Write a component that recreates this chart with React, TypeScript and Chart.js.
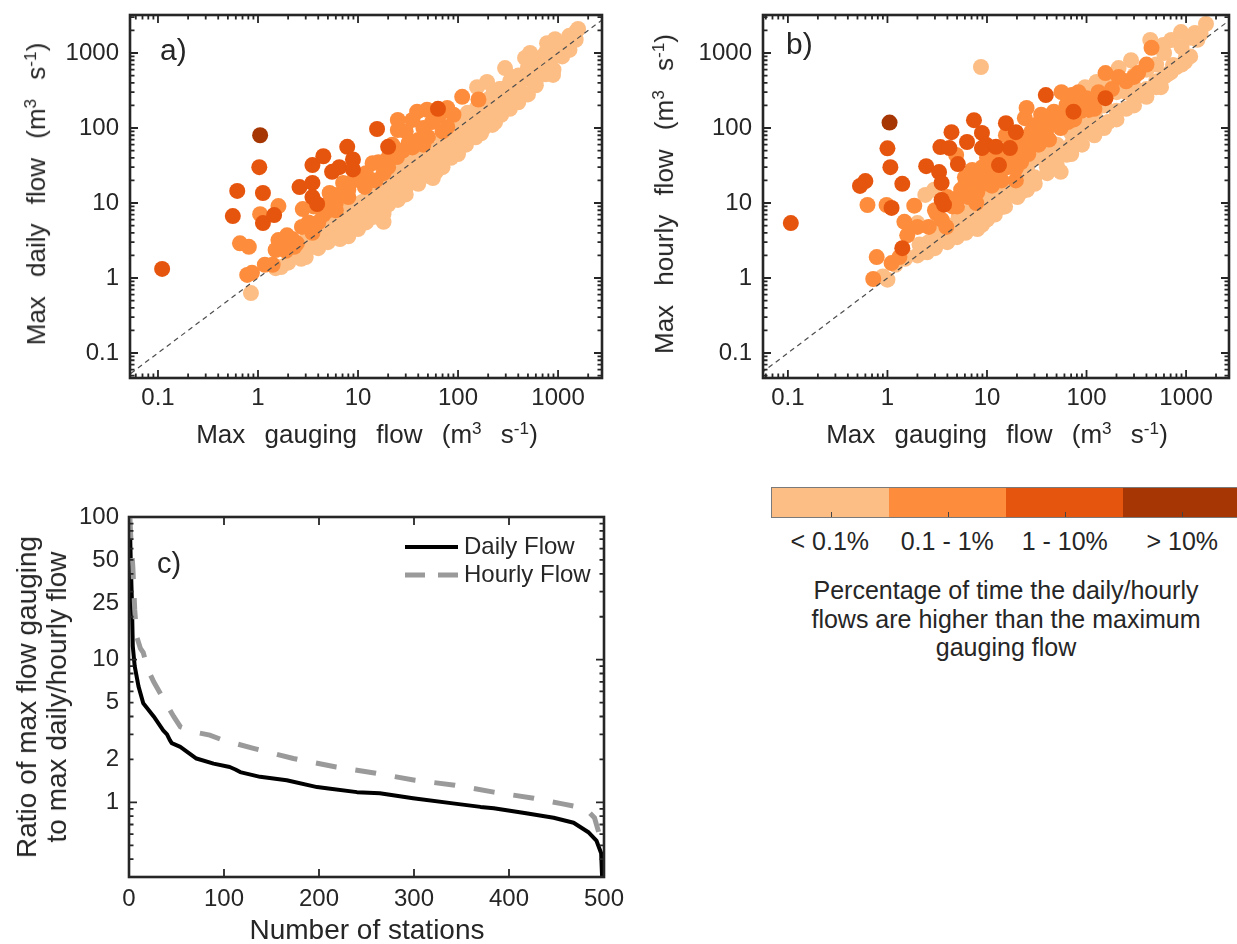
import React, { useEffect, useRef } from 'react';
import { Chart, registerables } from 'chart.js';

Chart.register(...registerables);

type Pt = [number, number];

const FONT = "'Liberation Sans', Arial, Helvetica, sans-serif";
const INK = '#262626';

// ---------- legend / classes ----------
const classColors = ['#FDBE85', '#FD8D3C', '#E6550D', '#A63603'];
const classLabels = ['< 0.1%', '0.1 - 1%', '1 - 10%', '> 10%'];
const legendTitleLines = [
  'Percentage of time the daily/hourly',
  'flows are higher than the maximum',
  'gauging flow',
];

// ---------- ticks ----------
const flowTickValues = [0.1, 1, 10, 100, 1000];
const flowTickLabels = ['0.1', '1', '10', '100', '1000'];
const ratioTickValues = [1, 2, 5, 10, 25, 50, 100];
const ratioTickLabels = ['1', '2', '5', '10', '25', '50', '100'];
const stationTickValues = [0, 100, 200, 300, 400, 500];
const stationTickLabels = ['0', '100', '200', '300', '400', '500'];

// ---------- panel a: max gauging flow vs max daily flow ----------
const dailyLight: Pt[] = [
  [0.85, 0.63], [1.5, 1.35], [1.7, 1.4], [2.1, 1.9], [2.4, 2.1], [2.7, 1.8], [3, 2.6], [3.3, 3.1],
  [3.6, 2.6], [4, 3.3], [4.5, 3.8], [4.9, 4.4], [5.3, 3.6], [5.9, 3.5], [6.2, 4.6], [6.6, 3.3],
  [7, 3.9], [7.8, 4.4], [8.3, 5.6], [9, 7.6], [9.5, 5.2], [10, 6.5], [11, 10.3], [11.5, 7.8],
  [12, 8.5], [13, 6.3], [14, 8.8], [15, 11], [16, 9.5], [18, 5.6], [18, 7.2], [19, 13], [21, 14],
  [22, 11], [24, 15], [26, 18], [28, 23.6], [30, 16], [33, 20], [35, 21.5], [36, 29], [40, 24],
  [42, 44], [45, 30], [50, 35], [53, 54], [56, 21.5], [60, 40], [65, 48], [70, 58], [74, 46],
  [80, 60], [90, 75], [100, 74], [110, 95], [110, 135], [125, 160], [140, 88], [150, 120],
  [155, 350], [170, 85], [180, 150], [195, 410], [200, 240], [225, 290], [235, 120], [250, 200],
  [260, 330], [295, 630], [300, 260], [345, 480], [370, 250], [400, 350], [468, 860], [500, 600],
  [525, 1000], [600, 370], [650, 700], [708, 760], [776, 1350], [890, 510], [933, 1530],
  [1050, 1040], [1300, 1640], [1585, 2090], [8, 9], [6, 6.5], [5, 5.5], [13, 14], [20, 22],
  [25, 28], [32, 35], [46, 42], [85, 90], [130, 110], [7.2, 5.5], [12, 10], [17, 12],
  [2, 1.6], [2.2, 2.4], [3, 1.9], [3.1, 3.4], [4, 2.5], [4.1, 4.2], [5, 3], [5.1, 4.9], [6, 3.8],
  [6.1, 5.8], [7, 4.6], [7.1, 6.8], [8, 3.6], [8.1, 6.5], [10, 4.5], [10, 8], [10.2, 9.5],
  [12, 5.5], [12.2, 11], [14, 6.5], [14.2, 12], [17, 8], [17.2, 15], [20, 9.5], [20, 16], [20.5, 19],
  [25, 11], [25, 21], [25.5, 25], [30, 13], [30, 25], [30.5, 30], [40, 18], [40, 33], [40.5, 38],
  [50, 23], [50, 28], [50.5, 45], [60, 26], [60, 50], [70, 30], [70, 45], [70.5, 70], [85, 40],
  [85, 65], [86, 100], [100, 45], [100, 60], [100, 95], [101, 120], [120, 60], [120, 80],
  [121, 115], [150, 75], [150, 100], [150, 150], [152, 180], [180, 100], [180, 120], [182, 220],
  [220, 110], [220, 170], [222, 260], [270, 150], [270, 220], [272, 330], [330, 180], [330, 280],
  [332, 420], [400, 220], [400, 300], [402, 500], [500, 280], [500, 450], [502, 650], [600, 430],
  [600, 550], [602, 850], [750, 520], [750, 800], [752, 1000], [900, 600], [900, 900],
  [902, 1200], [1100, 900], [1100, 1300], [1300, 1100], [1300, 1700], [1500, 1500], [1500, 1900],
];
const dailyMedium: Pt[] = [
  [0.66, 2.9], [0.81, 2.6], [0.78, 1.1], [0.87, 1.17], [1.05, 7.1], [1.17, 1.5], [1.4, 1.5],
  [1.5, 2.36], [1.6, 9.1], [1.6, 3.2], [1.95, 3.7], [2.45, 2.9], [2.2, 3.3], [2.75, 4.8],
  [2.8, 8.3], [3.2, 5.5], [3.5, 4], [3.6, 9], [4.5, 7], [5.2, 13.6], [5.2, 10.3], [6, 8],
  [6.2, 12.8], [7.1, 18.5], [8, 12], [10, 22], [11.7, 16.4], [14, 34], [18, 25], [20, 30],
  [24.5, 41], [25, 94], [25, 128], [32, 63], [35, 128], [39, 165], [40, 69], [49, 175], [50, 76],
  [60, 140], [78, 185], [78, 103], [110, 260], [160, 240],
  [5, 8], [6, 10], [8, 15], [9, 20], [12, 25], [15, 20], [16, 35], [20, 40], [22, 60], [28, 50],
  [30, 90], [45, 100], [55, 120], [65, 150], [90, 150], [35, 55], [45, 60], [70, 90], [4, 5.5],
  [2.3, 2.6], [1.9, 2.3],
];
const dailyDark: Pt[] = [
  [0.11, 1.32], [0.56, 6.7], [0.62, 14.5], [1.03, 30], [1.12, 13.6], [1.12, 5.4], [1.45, 6.9],
  [2.6, 16.3], [3.5, 18.5], [3.5, 12], [3.9, 9.7], [3.5, 32], [4.5, 42], [5.5, 26], [6.5, 30],
  [7.8, 56], [8.9, 38], [8.9, 28], [15.5, 97], [20, 56], [63, 180],
];
const dailyDarkest: Pt[] = [[1.05, 80]];

// ---------- panel b: max gauging flow vs max hourly flow ----------
const hourlyLight: Pt[] = [
  [0.9, 1.05], [1.2, 1.5], [1.5, 1.8], [2, 5.4], [2.4, 12.8], [2.5, 2.2], [2.95, 15], [3, 2.5],
  [3.3, 3.2], [4, 3], [4.9, 4.1], [5, 3.5], [6, 4.5], [7.4, 4.8], [8.3, 6.3], [8.9, 5.1],
  [8.9, 7.3], [9.5, 10], [9.8, 9.4], [12, 7], [13, 10.3], [14, 8.8], [15, 12], [17.8, 15],
  [18, 17], [20, 13], [22, 14], [25, 20], [25, 35], [30, 22], [33, 54], [35, 40], [40, 30],
  [42, 37], [45, 60], [50, 45], [55, 26], [63, 44], [70, 60], [83, 80], [97, 350], [100, 90],
  [117, 120], [126, 410], [130, 100], [150, 200], [165, 120], [165, 440], [200, 170], [210, 630],
  [235, 320], [250, 300], [280, 800], [300, 250], [305, 510], [400, 330], [437, 1490], [500, 420],
  [560, 350], [590, 1280], [650, 520], [710, 1490], [740, 690], [800, 650], [890, 1900],
  [975, 760], [1000, 900], [1230, 1850], [1300, 1500], [1585, 2440], [8.7, 650],
  [1, 0.95], [1.5, 2], [2, 2], [2.1, 2.8], [2.6, 3], [3.1, 2.8], [3.1, 4], [4.1, 3.3], [4.1, 5],
  [5.1, 4.5], [5.2, 6.5], [6.1, 4], [6.2, 7], [7, 5.5], [7.2, 9], [8, 4.5], [10, 6], [10.2, 12],
  [12.2, 8], [12.4, 14], [15.2, 9], [15.4, 18], [20.2, 12], [20.4, 24], [25.2, 15], [25.4, 30],
  [30.2, 18], [30.4, 40], [40.2, 25], [40.4, 50], [50.2, 32], [50.4, 60], [70.2, 45], [70.4, 85],
  [90, 60], [91, 110], [120, 80], [121, 160], [150, 100], [151, 230], [200, 130], [201, 300],
  [250, 180], [251, 400], [300, 200], [301, 350], [400, 260], [401, 600], [500, 350], [501, 700],
  [600, 480], [601, 1000], [700, 550], [900, 700], [901, 1200], [1100, 900], [1101, 1600],
  [1400, 1800],
];
const hourlyMedium: Pt[] = [
  [0.63, 9.4], [0.98, 9.4], [1.86, 9.2], [1.48, 5.6], [0.78, 1.9], [0.72, 0.97], [1.1, 1.58],
  [1.32, 1.9], [1.58, 3.7], [2, 4.8], [2.6, 4.8], [3.1, 7.3], [3.5, 6], [3.9, 4.8], [4.5, 9],
  [5.2, 12], [6, 22], [6.1, 18.5], [7.1, 27.6], [4.9, 43.6], [7.8, 10], [8, 14], [9, 30],
  [10, 40], [11.2, 18.5], [11.2, 17], [12, 50], [14, 20], [15, 50], [15.5, 80], [19.5, 20],
  [19.5, 29], [20, 60], [21, 44], [24, 135], [25, 185], [25, 75], [28, 65], [31, 110], [35, 150],
  [39, 88], [40, 100], [47, 165], [50, 120], [56, 300], [63, 203], [71, 275], [80, 200],
  [83, 300], [100, 250], [105, 174], [132, 300], [155, 540], [210, 480], [330, 540], [450, 1170],
  [3, 8], [4, 12], [5, 9], [5.5, 15], [6.5, 12], [7, 20], [8, 25], [9, 18], [10.5, 25], [11, 35],
  [13, 28], [14, 40], [16, 30], [17, 45], [18, 70], [22, 35], [23, 55], [26, 45], [28, 90],
  [30, 70], [33, 60], [36, 80], [42, 70], [45, 130], [55, 100], [60, 150], [65, 120], [75, 130],
  [90, 170], [110, 220], [120, 180], [140, 260], [180, 330], [250, 420], [300, 480], [400, 700],
];
const hourlyDark: Pt[] = [
  [0.107, 5.4], [0.53, 16.9], [0.6, 19.6], [1.0, 53.6], [1.07, 30], [1.41, 18], [1.1, 8.6],
  [1.41, 2.5], [2.45, 31], [3.3, 25.8], [3.5, 18.5], [3.5, 11], [3.7, 9.5], [4.4, 88],
  [3.4, 55.7], [4.2, 54], [5.1, 33], [6.3, 65], [7.4, 127], [8.9, 86], [8.9, 54], [9.8, 60],
  [12.3, 56], [13.2, 32], [15.5, 116], [17, 54], [19.5, 88], [39, 275], [74, 165], [155, 250],
];
const hourlyDarkest: Pt[] = [[1.05, 118]];

// ---------- panel c: sorted ratios ----------
const dailyStations = [1, 2, 3, 4, 6, 10, 15, 20, 26, 36, 40, 43, 45, 54, 71, 89, 106, 112, 117, 138,
  166, 198, 210, 240, 264, 299, 343, 370, 384, 418, 447, 468, 484, 492, 497, 498];
const dailyRatio = [85, 45, 26.5, 12.4, 9.0, 6.5, 4.95, 4.5, 4.0, 3.2, 3.0, 2.73, 2.6, 2.45, 2.03,
  1.87, 1.77, 1.7, 1.63, 1.51, 1.43, 1.28, 1.25, 1.18, 1.16, 1.07, 0.98, 0.93, 0.91, 0.84, 0.78,
  0.72, 0.615, 0.54, 0.44, 0.3];
const hourlyStations = [1, 2, 4, 6, 8, 12, 15, 20, 26, 33, 40, 47, 54, 70, 85, 99, 131, 173, 218,
  260, 301, 343, 384, 426, 455, 480, 490, 497];
const hourlyRatio = [98, 70, 45, 22.5, 14.6, 12, 11.2, 8.5, 7.0, 5.8, 4.8, 4.0, 3.39, 3.1, 2.96,
  2.73, 2.39, 2.03, 1.77, 1.6, 1.43, 1.32, 1.18, 1.07, 0.98, 0.91, 0.78, 0.54];

// ---------- helpers ----------
type TickMark = { v: number; major: boolean };

function logTickMarks(min: number, max: number): TickMark[] {
  const out: TickMark[] = [];
  for (let e = -3; e <= 4; e++) {
    for (let k = 1; k <= 9; k++) {
      const v = k * Math.pow(10, e);
      if (v >= min && v <= max) out.push({ v, major: k === 1 });
    }
  }
  return out;
}

function boxTicksPlugin(xTicks: TickMark[], yTicks: TickMark[]) {
  return {
    id: 'boxTicks',
    afterDatasetsDraw(chart: any) {
      const { ctx, chartArea } = chart;
      const { left, right, top, bottom } = chartArea;
      const xs = chart.scales.x;
      const ys = chart.scales.y;
      ctx.save();
      ctx.strokeStyle = INK;
      ctx.lineWidth = 1.8;
      ctx.beginPath();
      xTicks.forEach((t) => {
        const p = xs.getPixelForValue(t.v);
        const L = t.major ? 8 : 4.5;
        ctx.moveTo(p, bottom);
        ctx.lineTo(p, bottom - L);
        ctx.moveTo(p, top);
        ctx.lineTo(p, top + L);
      });
      yTicks.forEach((t) => {
        const p = ys.getPixelForValue(t.v);
        const L = t.major ? 8 : 4.5;
        ctx.moveTo(left, p);
        ctx.lineTo(left + L, p);
        ctx.moveTo(right, p);
        ctx.lineTo(right - L, p);
      });
      ctx.stroke();
      ctx.lineWidth = 2.6;
      ctx.strokeRect(left, top, right - left, bottom - top);
      ctx.restore();
    },
  };
}

function fixedScale(size: number, horizontal: boolean) {
  return (s: any) => {
    if (horizontal) s.height = size;
    else s.width = size;
    s.paddingLeft = 0;
    s.paddingRight = 0;
    s.paddingTop = 0;
    s.paddingBottom = 0;
  };
}

const tickFont = { family: FONT, size: 24 };

function scatterConfig(
  light: Pt[], medium: Pt[], dark: Pt[], darkest: Pt[],
  xMin: number, xMax: number, yMin: number, yMax: number,
  yWidth: number, xHeight: number, padTop: number, padRight: number,
) {
  const toPts = (arr: Pt[]) => arr.map(([x, y]) => ({ x, y }));
  const pointSet = (arr: Pt[], color: string) => ({
    data: toPts(arr),
    pointRadius: 8,
    pointHoverRadius: 8,
    pointBackgroundColor: color,
    pointBorderWidth: 0,
    borderWidth: 0,
    showLine: false,
  });
  return {
    type: 'scatter',
    data: {
      datasets: [
        {
          type: 'line',
          data: [{ x: 0.001, y: 0.001 }, { x: 100000, y: 100000 }],
          borderColor: '#4d4d4d',
          borderWidth: 1.2,
          borderDash: [5, 4],
          pointRadius: 0,
          fill: false,
        },
        pointSet(darkest, classColors[3]),
        pointSet(dark, classColors[2]),
        pointSet(medium, classColors[1]),
        pointSet(light, classColors[0]),
      ],
    },
    options: {
      animation: false,
      responsive: false,
      events: [],
      layout: { padding: { left: 0, top: padTop, right: padRight, bottom: 0 } },
      plugins: { legend: { display: false }, tooltip: { enabled: false } },
      scales: {
        x: {
          type: 'logarithmic',
          min: xMin,
          max: xMax,
          bounds: 'data',
          grid: { display: false, drawTicks: false },
          border: { display: false },
          afterBuildTicks: (s: any) => { s.ticks = flowTickValues.map((v) => ({ value: v })); },
          afterFit: fixedScale(xHeight, true),
          ticks: {
            autoSkip: false, maxRotation: 0, padding: 6, color: INK, font: tickFont,
            callback: (_v: any, i: number) => flowTickLabels[i],
          },
        },
        y: {
          type: 'logarithmic',
          min: yMin,
          max: yMax,
          bounds: 'data',
          grid: { display: false, drawTicks: false },
          border: { display: false },
          afterBuildTicks: (s: any) => { s.ticks = flowTickValues.map((v) => ({ value: v })); },
          afterFit: fixedScale(yWidth, false),
          ticks: {
            autoSkip: false, padding: 11, color: INK, font: tickFont,
            callback: (_v: any, i: number) => flowTickLabels[i],
          },
        },
      },
    },
    plugins: [boxTicksPlugin(logTickMarks(xMin, xMax), logTickMarks(yMin, yMax))],
  };
}

const ratioLegendPlugin = {
  id: 'ratioLegend',
  afterDraw(chart: any) {
    const { ctx, chartArea } = chart;
    const x0 = chartArea.right - 199;
    const x1 = chartArea.right - 146;
    const tx = chartArea.right - 140;
    const y1 = chartArea.top + 30;
    const y2 = chartArea.top + 58;
    ctx.save();
    ctx.strokeStyle = '#000000';
    ctx.lineWidth = 4;
    ctx.beginPath();
    ctx.moveTo(x0, y1);
    ctx.lineTo(x1, y1);
    ctx.stroke();
    ctx.strokeStyle = '#9a9a9a';
    ctx.lineWidth = 5;
    ctx.setLineDash([20, 13]);
    ctx.beginPath();
    ctx.moveTo(x0, y2);
    ctx.lineTo(x1, y2);
    ctx.stroke();
    ctx.setLineDash([]);
    ctx.fillStyle = INK;
    ctx.font = `24px ${FONT}`;
    ctx.textBaseline = 'middle';
    ctx.textAlign = 'left';
    ctx.fillText('Daily Flow', tx, y1);
    ctx.fillText('Hourly Flow', tx, y2);
    ctx.restore();
  },
};

function ratioConfig() {
  const stationMarks: TickMark[] = stationTickValues.map((v) => ({ v, major: true }));
  return {
    type: 'line',
    data: {
      datasets: [
        {
          label: 'Hourly Flow',
          data: hourlyStations.map((x, i) => ({ x, y: hourlyRatio[i] })),
          borderColor: '#9a9a9a',
          borderWidth: 5,
          borderDash: [21, 19],
          pointRadius: 0,
          tension: 0,
          fill: false,
        },
        {
          label: 'Daily Flow',
          data: dailyStations.map((x, i) => ({ x, y: dailyRatio[i] })),
          borderColor: '#000000',
          borderWidth: 4,
          borderJoinStyle: 'round',
          pointRadius: 0,
          tension: 0,
          fill: false,
        },
      ],
    },
    options: {
      animation: false,
      responsive: false,
      events: [],
      layout: { padding: { left: 0, top: 37, right: 36, bottom: 0 } },
      plugins: { legend: { display: false }, tooltip: { enabled: false } },
      scales: {
        x: {
          type: 'linear',
          min: 0,
          max: 500,
          bounds: 'data',
          grid: { display: false, drawTicks: false },
          border: { display: false },
          afterBuildTicks: (s: any) => { s.ticks = stationTickValues.map((v) => ({ value: v })); },
          afterFit: fixedScale(48, true),
          ticks: {
            autoSkip: false, maxRotation: 0, padding: 8, color: INK, font: tickFont,
            callback: (_v: any, i: number) => stationTickLabels[i],
          },
        },
        y: {
          type: 'logarithmic',
          min: 0.3,
          max: 100,
          bounds: 'data',
          grid: { display: false, drawTicks: false },
          border: { display: false },
          afterBuildTicks: (s: any) => { s.ticks = ratioTickValues.map((v) => ({ value: v })); },
          afterFit: fixedScale(129, false),
          ticks: {
            autoSkip: false, padding: 10, color: INK, font: tickFont,
            callback: (_v: any, i: number) => ratioTickLabels[i],
          },
        },
      },
    },
    plugins: [boxTicksPlugin(stationMarks, logTickMarks(0.3, 100)), ratioLegendPlugin],
  };
}

// ---------- overlay text ----------
const supStyle: React.CSSProperties = { fontSize: '0.66em', verticalAlign: '0.55em', lineHeight: 0 };

function Unit() {
  return (
    <span>
      (m<sup style={supStyle}>3</sup> s<sup style={supStyle}>-1</sup>)
    </span>
  );
}

function Label(props: {
  x: number; y: number; size: number; rotate?: boolean; children: React.ReactNode;
  lineHeight?: number; wordSpacing?: number; align?: 'center' | 'left';
}) {
  const { x, y, size, rotate, children, lineHeight, wordSpacing, align } = props;
  const lh = lineHeight ?? size * 1.15;
  const style: React.CSSProperties = {
    position: 'absolute',
    left: x,
    top: y,
    fontSize: size,
    lineHeight: `${lh}px`,
    whiteSpace: 'nowrap',
    wordSpacing: wordSpacing ? `${wordSpacing}px` : undefined,
    textAlign: 'center',
    transform: align === 'left'
      ? 'translate(0,-50%)'
      : rotate ? 'translate(-50%,-50%) rotate(-90deg)' : 'translate(-50%,-50%)',
  };
  return <div style={style}>{children}</div>;
}

export default function App() {
  const aRef = useRef<HTMLCanvasElement>(null);
  const bRef = useRef<HTMLCanvasElement>(null);
  const cRef = useRef<HTMLCanvasElement>(null);

  useEffect(() => {
    document.body.style.margin = '0';
    const charts: Chart[] = [];
    if (aRef.current) {
      charts.push(new Chart(aRef.current, scatterConfig(
        dailyLight, dailyMedium, dailyDark, dailyDarkest,
        0.0525, 2750, 0.0464, 3210, 130, 92, 15, 23) as any));
    }
    if (bRef.current) {
      charts.push(new Chart(bRef.current, scatterConfig(
        hourlyLight, hourlyMedium, hourlyDark, hourlyDarkest,
        0.0562, 2700, 0.0464, 3210, 133, 92, 15, 6) as any));
    }
    if (cRef.current) {
      charts.push(new Chart(cRef.current, ratioConfig() as any));
    }
    return () => charts.forEach((c) => c.destroy());
  }, []);

  const segW = 117.5;
  return (
    <div
      style={{
        position: 'relative', width: 1237, height: 944, overflow: 'hidden',
        background: '#ffffff', fontFamily: FONT, color: INK,
      }}
    >
      <canvas ref={aRef} width={625} height={470}
        style={{ position: 'absolute', left: 0, top: 0, width: 625, height: 470 }} />
      <canvas ref={bRef} width={607} height={470}
        style={{ position: 'absolute', left: 630, top: 0, width: 607, height: 470 }} />
      <canvas ref={cRef} width={640} height={445}
        style={{ position: 'absolute', left: 0, top: 480, width: 640, height: 445 }} />

      {/* panel letters */}
      <Label x={160} y={50} size={30} align="left">a)</Label>
      <Label x={786} y={44} size={30} align="left">b)</Label>
      <Label x={157} y={564} size={29} align="left">c)</Label>

      {/* panel a titles */}
      <Label x={37} y={194} size={26} rotate wordSpacing={12}>
        Max daily flow <Unit />
      </Label>
      <Label x={367} y={435} size={26} wordSpacing={12}>
        Max gauging flow <Unit />
      </Label>

      {/* panel b titles */}
      <Label x={665} y={194} size={26} rotate wordSpacing={12}>
        Max hourly flow <Unit />
      </Label>
      <Label x={997} y={435} size={26} wordSpacing={12}>
        Max gauging flow <Unit />
      </Label>

      {/* panel c titles */}
      <Label x={42} y={697} size={28} rotate lineHeight={30}>
        Ratio of max flow gauging<br />to max daily/hourly flow
      </Label>
      <Label x={367} y={930} size={28}>Number of stations</Label>

      {/* colour legend */}
      <div
        style={{
          position: 'absolute', left: 771, top: 487, width: segW * 4, height: 31,
          display: 'flex', border: '1px solid #7a7a7a', boxSizing: 'border-box',
        }}
      >
        {classColors.map((c, i) => (
          <div key={i} style={{ flex: 1, background: c, position: 'relative' }}>
            <div style={{
              position: 'absolute', left: '50%', bottom: 0, width: 1, height: 5, background: '#444444',
            }} />
          </div>
        ))}
      </div>
      {classLabels.map((t, i) => (
        <Label key={t} x={771 + segW * (i + 0.5)} y={541} size={25}>{t}</Label>
      ))}
      {legendTitleLines.map((t, i) => (
        <Label key={t} x={1006} y={590 + i * 28.5} size={25}>{t}</Label>
      ))}
    </div>
  );
}
